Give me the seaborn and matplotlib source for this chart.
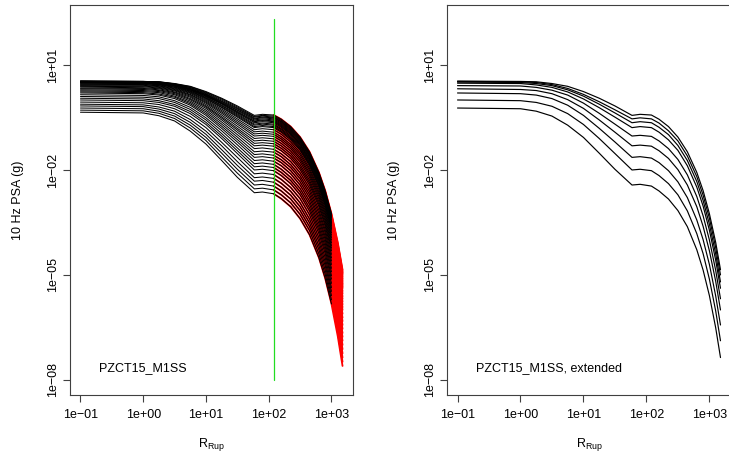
import numpy as np
import pandas as pd
import matplotlib
matplotlib.use("Agg")
import matplotlib.pyplot as plt
import seaborn as sns

# ---------------- data ----------------
# rupture distances (km) at which the curves were read
rupture_distance_km = [0.1, 1.0, 1.78, 3.16, 5.62, 10.0, 17.8, 31.6, 59.0, 79.4,
                       120.0, 158.5, 223.9, 316.2, 446.7, 631.0, 794.3, 1000.0, 1258.9, 1500.0]

# left panel: dense family of curves, log10 of 10 Hz PSA (g)
original_log10_psa = [
    [-0.35, -0.37, -0.45, -0.60, -0.89, -1.26, -1.73, -2.21, -2.65, -2.63, -2.68, -2.82, -3.05, -3.39, -3.85, -4.51, -5.10, -5.83, -6.75, -7.60],
    [-0.29, -0.31, -0.38, -0.53, -0.80, -1.16, -1.63, -2.09, -2.54, -2.52, -2.57, -2.71, -2.94, -3.27, -3.73, -4.40, -4.98, -5.71, -6.63, -7.48],
    [-0.23, -0.25, -0.32, -0.46, -0.72, -1.07, -1.52, -1.98, -2.43, -2.41, -2.46, -2.60, -2.83, -3.16, -3.62, -4.28, -4.86, -5.59, -6.51, -7.36],
    [-0.17, -0.19, -0.26, -0.39, -0.64, -0.98, -1.42, -1.87, -2.32, -2.30, -2.35, -2.49, -2.72, -3.05, -3.51, -4.17, -4.74, -5.47, -6.39, -7.24],
    [-0.12, -0.14, -0.20, -0.32, -0.56, -0.89, -1.31, -1.76, -2.22, -2.20, -2.24, -2.38, -2.61, -2.94, -3.40, -4.05, -4.63, -5.36, -6.27, -7.12],
    [-0.06, -0.08, -0.13, -0.25, -0.47, -0.79, -1.21, -1.64, -2.11, -2.09, -2.13, -2.27, -2.50, -2.82, -3.28, -3.94, -4.51, -5.24, -6.15, -7.00],
    [0.00, -0.02, -0.07, -0.18, -0.39, -0.70, -1.10, -1.53, -2.00, -1.98, -2.02, -2.16, -2.39, -2.71, -3.17, -3.82, -4.39, -5.12, -6.03, -6.88],
    [0.05, 0.03, -0.02, -0.13, -0.33, -0.64, -1.03, -1.45, -1.91, -1.89, -1.93, -2.07, -2.30, -2.62, -3.08, -3.72, -4.29, -5.02, -5.92, -6.77],
    [0.10, 0.08, 0.04, -0.07, -0.27, -0.57, -0.96, -1.37, -1.82, -1.80, -1.84, -1.98, -2.21, -2.53, -2.98, -3.63, -4.19, -4.91, -5.82, -6.66],
    [0.15, 0.13, 0.09, -0.02, -0.21, -0.51, -0.88, -1.28, -1.73, -1.71, -1.75, -1.88, -2.11, -2.43, -2.89, -3.53, -4.09, -4.81, -5.71, -6.54],
    [0.20, 0.18, 0.14, 0.04, -0.15, -0.44, -0.81, -1.20, -1.64, -1.62, -1.66, -1.79, -2.02, -2.34, -2.79, -3.43, -3.99, -4.70, -5.60, -6.43],
    [0.23, 0.21, 0.17, 0.08, -0.11, -0.39, -0.75, -1.13, -1.56, -1.54, -1.58, -1.71, -1.93, -2.25, -2.70, -3.34, -3.90, -4.60, -5.50, -6.32],
    [0.26, 0.24, 0.21, 0.11, -0.07, -0.34, -0.69, -1.06, -1.48, -1.46, -1.49, -1.62, -1.85, -2.17, -2.61, -3.24, -3.80, -4.51, -5.39, -6.22],
    [0.29, 0.27, 0.24, 0.15, -0.03, -0.29, -0.63, -0.99, -1.39, -1.37, -1.41, -1.54, -1.76, -2.08, -2.52, -3.15, -3.71, -4.41, -5.29, -6.11],
    [0.32, 0.30, 0.27, 0.18, 0.01, -0.24, -0.57, -0.92, -1.31, -1.29, -1.32, -1.45, -1.67, -1.99, -2.43, -3.05, -3.61, -4.31, -5.18, -6.00],
    [0.34, 0.33, 0.29, 0.21, 0.04, -0.20, -0.52, -0.86, -1.24, -1.22, -1.25, -1.38, -1.60, -1.92, -2.36, -2.98, -3.54, -4.23, -5.10, -5.92],
    [0.37, 0.35, 0.32, 0.23, 0.08, -0.17, -0.48, -0.81, -1.17, -1.15, -1.18, -1.31, -1.53, -1.85, -2.29, -2.91, -3.46, -4.16, -5.03, -5.84],
    [0.39, 0.38, 0.34, 0.26, 0.11, -0.13, -0.43, -0.75, -1.10, -1.08, -1.11, -1.24, -1.46, -1.77, -2.21, -2.83, -3.39, -4.08, -4.95, -5.76],
    [0.41, 0.40, 0.36, 0.28, 0.14, -0.09, -0.38, -0.69, -1.03, -1.01, -1.04, -1.17, -1.39, -1.70, -2.14, -2.76, -3.31, -4.00, -4.87, -5.68],
    [0.43, 0.42, 0.38, 0.30, 0.16, -0.06, -0.34, -0.64, -0.97, -0.95, -0.98, -1.11, -1.33, -1.64, -2.08, -2.69, -3.24, -3.93, -4.80, -5.61],
    [0.45, 0.44, 0.40, 0.32, 0.19, -0.03, -0.30, -0.59, -0.91, -0.89, -0.92, -1.05, -1.27, -1.57, -2.01, -2.63, -3.17, -3.86, -4.73, -5.53],
    [0.46, 0.45, 0.41, 0.34, 0.21, 0.00, -0.26, -0.54, -0.85, -0.82, -0.85, -0.98, -1.20, -1.51, -1.95, -2.56, -3.10, -3.79, -4.65, -5.46],
    [0.48, 0.47, 0.43, 0.36, 0.23, 0.03, -0.22, -0.49, -0.79, -0.76, -0.79, -0.92, -1.14, -1.44, -1.88, -2.49, -3.03, -3.72, -4.58, -5.38],
    [0.49, 0.48, 0.44, 0.37, 0.25, 0.05, -0.20, -0.46, -0.76, -0.73, -0.76, -0.89, -1.10, -1.41, -1.84, -2.45, -2.99, -3.68, -4.54, -5.34],
    [0.50, 0.49, 0.45, 0.39, 0.26, 0.07, -0.17, -0.43, -0.72, -0.69, -0.72, -0.85, -1.07, -1.37, -1.81, -2.41, -2.95, -3.64, -4.49, -5.29],
    [0.50, 0.49, 0.46, 0.40, 0.28, 0.09, -0.15, -0.40, -0.69, -0.66, -0.69, -0.82, -1.03, -1.34, -1.77, -2.37, -2.91, -3.59, -4.45, -5.25],
    [0.51, 0.50, 0.47, 0.41, 0.29, 0.11, -0.12, -0.37, -0.65, -0.62, -0.65, -0.78, -0.99, -1.30, -1.73, -2.33, -2.87, -3.55, -4.40, -5.20],
    [0.52, 0.51, 0.48, 0.42, 0.30, 0.12, -0.10, -0.35, -0.62, -0.59, -0.62, -0.75, -0.96, -1.27, -1.70, -2.30, -2.83, -3.51, -4.36, -5.15],
    [0.52, 0.51, 0.49, 0.43, 0.31, 0.14, -0.09, -0.33, -0.60, -0.57, -0.60, -0.72, -0.94, -1.24, -1.67, -2.26, -2.80, -3.47, -4.31, -5.10],
    [0.53, 0.52, 0.49, 0.43, 0.32, 0.15, -0.07, -0.30, -0.57, -0.54, -0.57, -0.69, -0.91, -1.20, -1.63, -2.23, -2.76, -3.42, -4.27, -5.05],
    [0.53, 0.52, 0.50, 0.44, 0.33, 0.16, -0.05, -0.28, -0.54, -0.51, -0.54, -0.66, -0.88, -1.17, -1.60, -2.19, -2.72, -3.38, -4.22, -5.00],
    [0.53, 0.52, 0.51, 0.45, 0.35, 0.18, -0.03, -0.25, -0.52, -0.49, -0.51, -0.63, -0.85, -1.14, -1.57, -2.16, -2.69, -3.35, -4.18, -4.96],
    [0.54, 0.53, 0.51, 0.46, 0.36, 0.20, 0.00, -0.23, -0.49, -0.46, -0.49, -0.61, -0.82, -1.12, -1.54, -2.13, -2.66, -3.32, -4.15, -4.93],
    [0.54, 0.53, 0.52, 0.46, 0.38, 0.22, 0.03, -0.20, -0.47, -0.44, -0.46, -0.58, -0.79, -1.09, -1.51, -2.10, -2.62, -3.28, -4.11, -4.89],
    [0.54, 0.53, 0.52, 0.47, 0.39, 0.24, 0.05, -0.17, -0.44, -0.41, -0.43, -0.55, -0.76, -1.06, -1.48, -2.07, -2.59, -3.25, -4.07, -4.85],
]

# right panel: nine extended curves, log10 of 10 Hz PSA (g)
extended_log10_psa = [
    [-0.23, -0.25, -0.32, -0.46, -0.72, -1.07, -1.52, -1.98, -2.43, -2.41, -2.46, -2.60, -2.83, -3.16, -3.62, -4.28, -4.86, -5.59, -6.51, -7.36],
    [0.00, -0.02, -0.07, -0.18, -0.39, -0.70, -1.10, -1.53, -2.00, -1.98, -2.02, -2.16, -2.39, -2.71, -3.17, -3.82, -4.39, -5.12, -6.03, -6.88],
    [0.20, 0.18, 0.14, 0.04, -0.15, -0.44, -0.81, -1.20, -1.64, -1.62, -1.66, -1.79, -2.02, -2.34, -2.79, -3.43, -3.99, -4.70, -5.60, -6.43],
    [0.32, 0.30, 0.27, 0.18, 0.01, -0.24, -0.57, -0.92, -1.31, -1.29, -1.32, -1.45, -1.67, -1.99, -2.43, -3.05, -3.61, -4.31, -5.18, -6.00],
    [0.41, 0.40, 0.36, 0.28, 0.14, -0.09, -0.38, -0.69, -1.03, -1.01, -1.04, -1.17, -1.39, -1.70, -2.14, -2.76, -3.31, -4.00, -4.87, -5.68],
    [0.48, 0.47, 0.43, 0.36, 0.23, 0.03, -0.22, -0.49, -0.79, -0.76, -0.79, -0.92, -1.14, -1.44, -1.88, -2.49, -3.03, -3.72, -4.58, -5.38],
    [0.51, 0.50, 0.47, 0.41, 0.29, 0.11, -0.12, -0.37, -0.65, -0.62, -0.65, -0.78, -0.99, -1.30, -1.73, -2.33, -2.87, -3.55, -4.40, -5.20],
    [0.53, 0.52, 0.50, 0.44, 0.33, 0.16, -0.05, -0.28, -0.54, -0.51, -0.54, -0.66, -0.88, -1.17, -1.60, -2.19, -2.72, -3.38, -4.22, -5.00],
    [0.54, 0.53, 0.52, 0.47, 0.39, 0.24, 0.05, -0.17, -0.44, -0.41, -0.43, -0.55, -0.76, -1.06, -1.48, -2.07, -2.59, -3.25, -4.07, -4.85],
]

black_max_distance_km = 1000.0      # original curves drawn up to here
red_min_distance_km = 120.0         # extension drawn from here
green_line_distance_km = [120.0, 120.0]
green_line_psa = [1e-8, 200.0]

x_tick_values = [0.1, 1.0, 10.0, 100.0, 1000.0]
x_tick_labels = ["1e\u221201", "1e+00", "1e+01", "1e+02", "1e+03"]
y_tick_values = [1e1, 1e-2, 1e-5, 1e-8]
y_tick_labels = ["1e+01", "1e\u221202", "1e\u221205", "1e\u221208"]
panel_labels = ["PZCT15_M1SS", "PZCT15_M1SS, extended"]


def to_frame(table, rmin=None, rmax=None):
    rows = []
    for i, curve in enumerate(table):
        for r, v in zip(rupture_distance_km, curve):
            if rmin is not None and r < rmin - 1e-9:
                continue
            if rmax is not None and r > rmax + 1e-9:
                continue
            rows.append({"curve": i, "R": r, "PSA": 10.0 ** v})
    return pd.DataFrame(rows)


df_black = to_frame(original_log10_psa, rmax=black_max_distance_km)
df_red = to_frame(original_log10_psa, rmin=red_min_distance_km)
df_ext = to_frame(extended_log10_psa)

# ---------------- figure ----------------
sns.set_theme(style="white")
plt.rcParams.update({
    "font.family": ["Liberation Sans", "DejaVu Sans"],
    "mathtext.fontset": "custom",
    "mathtext.rm": "Liberation Sans",
    "mathtext.it": "Liberation Sans:italic",
    "axes.linewidth": 0.8,
    "axes.edgecolor": "#404040",
})

W, H = 729, 458
fig = plt.figure(figsize=(W / 100, H / 100), dpi=100)
fig.patch.set_facecolor("white")
axL = fig.add_axes([70 / W, 63 / H, 283 / W, 390 / H])
axR = fig.add_axes([447 / W, 63 / H, 284 / W, 390 / H])

sns.lineplot(data=df_red, x="R", y="PSA", units="curve", estimator=None,
             color="#ff0000", lw=1.3, ax=axL, legend=False, zorder=2, sort=True)
sns.lineplot(data=df_black, x="R", y="PSA", units="curve", estimator=None,
             color="black", lw=0.75, ax=axL, legend=False, zorder=3, sort=True)
axL.plot(green_line_distance_km, green_line_psa, color="#22dd22", lw=0.9, zorder=4)

sns.lineplot(data=df_ext, x="R", y="PSA", units="curve", estimator=None,
             color="black", lw=0.85, ax=axR, legend=False, zorder=3, sort=True)

for ax, label in zip([axL, axR], panel_labels):
    ax.set_xscale("log")
    ax.set_yscale("log")
    ax.set_xlim(10 ** -1.167, 10 ** 3.343)
    ax.set_ylim(10 ** -8.43, 10 ** 2.714)
    ax.minorticks_off()
    ax.set_xticks(x_tick_values, labels=x_tick_labels)
    ax.set_yticks(y_tick_values, labels=y_tick_labels, rotation=90, va="center")
    ax.minorticks_off()
    ax.tick_params(axis="both", which="major", direction="out", length=5,
                   width=0.8, color="#404040", labelsize=9, labelcolor="black",
                   bottom=True, left=True, top=False, right=False)
    ax.tick_params(axis="x", pad=5)
    ax.tick_params(axis="y", pad=3)
    ax.set_xlabel(r"R$_{\mathrm{Rup}}$", fontsize=9, color="black")
    ax.xaxis.set_label_coords(0.5, -0.128)
    ax.xaxis.label.set_va("center")
    ax.set_ylabel("10 Hz PSA (g)", fontsize=9, color="black")
    ax.yaxis.set_label_coords(-0.185, 0.5)
    ax.yaxis.label.set_va("center")
    ax.text(0.103, 0.069, label, transform=ax.transAxes, fontsize=9,
            ha="left", va="center", color="black")
    for s in ax.spines.values():
        s.set_visible(True)
        s.set_color("#404040")
        s.set_linewidth(0.8)
    ax.grid(False)

fig.savefig("out.png", dpi=100, facecolor="white")
